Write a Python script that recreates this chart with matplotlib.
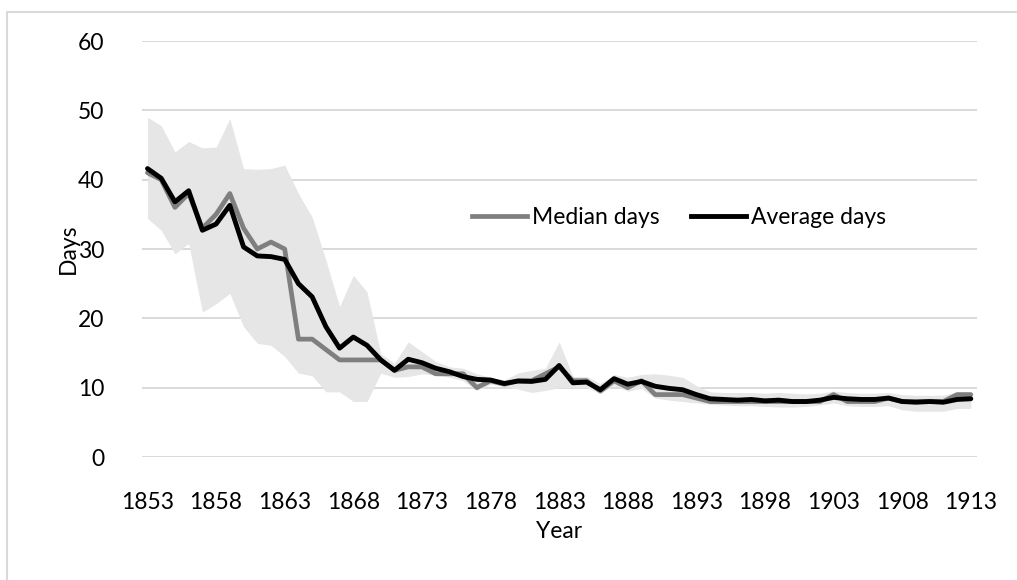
import matplotlib.pyplot as plt
from matplotlib.lines import Line2D

plt.rcParams['font.family'] = ['Lato', 'DejaVu Sans']

years = list(range(1853, 1914))
avg_days = [41.6, 40.2, 36.8, 38.4, 32.7, 33.6, 36.3, 30.3, 29.0, 28.9,
            28.5, 25.0, 23.1, 18.8, 15.7, 17.3, 16.1, 14.0, 12.5, 14.1,
            13.6, 12.8, 12.3, 11.6, 11.2, 11.1, 10.6, 10.95, 10.9, 11.2,
            13.2, 10.7, 10.8, 9.7, 11.3, 10.5, 10.9, 10.2, 9.9, 9.7,
            9.0, 8.4, 8.3, 8.2, 8.3, 8.1, 8.2, 8.0, 8.0, 8.2,
            8.6, 8.4, 8.3, 8.3, 8.5, 8.0, 7.9, 8.0, 7.9, 8.3, 8.4]
median_days = [41, 40, 36, 38, 33, 35, 38, 33, 30, 31,
               30, 17, 17, 15.5, 14, 14, 14, 14, 12.5, 13,
               13, 12, 12, 12, 10, 11, 10.5, 11, 11, 12,
               13, 11, 11, 9.5, 11, 10, 11, 9, 9, 9,
               8.5, 8, 8, 8, 8, 8, 8, 8, 8, 8,
               9, 8, 8, 8, 8.5, 8, 8, 8, 8, 9, 9]
upper = [49.0, 47.8, 44.0, 45.5, 44.6, 44.7, 48.8, 41.6, 41.5, 41.6,
         42.1, 38.0, 34.6, 28.4, 21.7, 26.2, 23.8, 14.9, 13.5, 16.6,
         15.2, 13.8, 13.0, 12.8, 12.0, 11.5, 11.1, 12.1, 12.5, 12.8,
         16.6, 11.6, 11.6, 10.6, 11.9, 11.5, 11.9, 12.0, 11.8, 11.5,
         10.3, 9.4, 9.3, 9.3, 9.3, 9.2, 9.3, 9.2, 9.1, 9.2,
         9.5, 9.3, 9.2, 9.2, 9.3, 9.0, 8.9, 8.9, 8.9, 9.4, 9.4]
lower = [34.4, 32.7, 29.3, 30.8, 20.9, 22.1, 23.6, 18.8, 16.4, 16.1,
         14.5, 12.1, 11.7, 9.4, 9.4, 8.0, 8.0, 12.1, 11.5, 11.6,
         12.0, 11.8, 11.5, 11.0, 9.6, 10.5, 10.2, 9.8, 9.3, 9.6,
         10.0, 10.0, 10.0, 9.2, 10.3, 9.5, 9.9, 8.5, 8.2, 8.0,
         7.8, 7.6, 7.5, 7.4, 7.4, 7.3, 7.2, 7.2, 7.3, 7.5,
         7.8, 7.4, 7.3, 7.3, 7.4, 6.8, 6.6, 6.6, 6.6, 7.0, 7.0]
year_ticks = list(range(1853, 1914, 5))

FS = 16.5
W, H = 1017, 580
fig = plt.figure(figsize=(W / 100, H / 100), dpi=100)
ax = fig.add_axes([142 / W, 1 - 457 / H, (977 - 142) / W, (457 - 41) / H])

ax.fill_between(years, lower, upper, color='#e6e6e6', linewidth=0, zorder=1)
ax.plot(years, median_days, color='#7f7f7f', lw=3.4, solid_joinstyle='round',
        solid_capstyle='round', zorder=3)
ax.plot(years, avg_days, color='black', lw=3.5, solid_joinstyle='round',
        solid_capstyle='round', zorder=4)

ax.set_xlim(1852.6, 1913.45)
ax.set_ylim(0, 60)
ax.set_yticks(range(0, 61, 10))
ax.set_xticks(year_ticks)
ax.grid(axis='y', color='#d9d9d9', lw=1.4, zorder=0)
ax.set_axisbelow(True)
for s in ax.spines.values():
    s.set_visible(False)
ax.tick_params(length=0, labelsize=FS, colors='black')
ax.tick_params(axis='x', pad=25)
ax.tick_params(axis='y', pad=27)

fig.text(559 / W, 1 - 531 / H, 'Year', ha='center', va='center', fontsize=FS)
fig.text(68 / W, 1 - 249 / H, 'Days', ha='center', va='center', fontsize=FS,
         rotation=90)

handles = [Line2D([], [], color='#7f7f7f', lw=3.4),
           Line2D([], [], color='black', lw=3.5)]
fig.legend(handles, ['Median days', 'Average days'], loc='center',
           bbox_to_anchor=(679 / W, 1 - 218 / H), ncol=2, frameon=False,
           fontsize=FS, handlelength=2.4, handletextpad=0.2, columnspacing=1.4)

# chart border (only top and left edges fall inside the crop)
fig.add_artist(Line2D([7 / W, 7 / W, 1.0], [0.0, 1 - 12 / H, 1 - 12 / H],
                      color='#d9d9d9', lw=1.5, transform=fig.transFigure))

fig.savefig('out.png', dpi=100)
